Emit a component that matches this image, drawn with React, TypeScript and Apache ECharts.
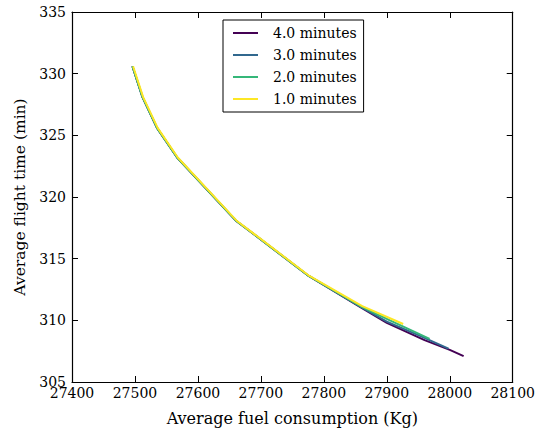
import React, { useEffect, useRef } from "react";
import * as echarts from "echarts";

const seriesNames = ["4.0 minutes", "3.0 minutes", "2.0 minutes", "1.0 minutes"];
const seriesColors = ["#440154", "#31688e", "#35b779", "#fde725"];

const fuel4 = [27496, 27512, 27535, 27567, 27660, 27776, 27860, 27900, 27960, 28000, 28022];
const time4 = [330.6, 328.1, 325.6, 323.2, 318.1, 313.6, 311.0, 309.8, 308.4, 307.6, 307.1];

const fuel3 = [27496, 27512, 27535, 27567, 27660, 27776, 27860, 27900, 27950, 27998];
const time3 = [330.6, 328.1, 325.6, 323.2, 318.1, 313.6, 311.05, 309.9, 308.8, 307.7];

const fuel2 = [27496, 27512, 27535, 27567, 27660, 27776, 27860, 27905, 27968];
const time2 = [330.6, 328.1, 325.6, 323.2, 318.1, 313.6, 311.1, 310.0, 308.5];

const fuel1 = [27497, 27513, 27536, 27568, 27661, 27777, 27861, 27926];
const time1 = [330.6, 328.1, 325.6, 323.2, 318.1, 313.6, 311.15, 309.7];

const fuels = [fuel4, fuel3, fuel2, fuel1];
const times = [time4, time3, time2, time1];

const FONT = "DejaVu Serif";

export default function App() {
  const ref = useRef<HTMLDivElement>(null);
  useEffect(() => {
    document.body.style.margin = "0";
    if (!ref.current) return;
    const chart = echarts.init(ref.current, undefined, { renderer: "svg" });
    const axisLine = { show: true, lineStyle: { color: "#000", width: 1.2 } };
    const tick = { show: true, inside: true, length: 6, lineStyle: { color: "#000", width: 1 } };
    const label = { color: "#000", fontFamily: FONT, fontSize: 14, formatter: (v: number) => String(v) };
    chart.setOption({
      animation: false,
      backgroundColor: "#fff",
      grid: { left: 72, top: 12, right: 22, bottom: 52, containLabel: false },
      legend: {
        orient: "vertical",
        left: 223,
        top: 20,
        data: seriesNames,
        icon: "rect",
        itemWidth: 25,
        itemHeight: 2,
        itemGap: 6,
        padding: [5, 7, 5, 10],
        borderColor: "#000",
        borderWidth: 1,
        borderRadius: 0,
        backgroundColor: "#fff",
        textStyle: { color: "#000", fontFamily: FONT, fontSize: 14, lineHeight: 16, padding: [0, 0, 0, 10] },
      },
      xAxis: [
        {
          type: "value",
          min: 27400,
          max: 28100,
          interval: 100,
          position: "bottom",
          name: "Average fuel consumption (Kg)",
          nameLocation: "middle",
          nameGap: 28,
          nameTextStyle: { color: "#000", fontFamily: FONT, fontSize: 16 },
          axisLine,
          axisTick: tick,
          axisLabel: { ...label, margin: 4 },
          splitLine: { show: false },
        },
        {
          type: "value",
          min: 27400,
          max: 28100,
          interval: 100,
          position: "top",
          axisLine,
          axisTick: tick,
          axisLabel: { show: false },
          splitLine: { show: false },
        },
      ],
      yAxis: [
        {
          type: "value",
          min: 305,
          max: 335,
          interval: 5,
          position: "left",
          name: "Average flight time (min)",
          nameLocation: "middle",
          nameGap: 42,
          nameRotate: 90,
          nameTextStyle: { color: "#000", fontFamily: FONT, fontSize: 15.5 },
          axisLine,
          axisTick: tick,
          axisLabel: { ...label, margin: 6 },
          splitLine: { show: false },
        },
        {
          type: "value",
          min: 305,
          max: 335,
          interval: 5,
          position: "right",
          axisLine,
          axisTick: tick,
          axisLabel: { show: false },
          splitLine: { show: false },
        },
      ],
      series: seriesNames.map((name, i) => ({
        name,
        type: "line",
        xAxisIndex: 0,
        yAxisIndex: 0,
        showSymbol: false,
        symbol: "none",
        color: seriesColors[i],
        lineStyle: { color: seriesColors[i], width: 2 },
        data: fuels[i].map((f, j) => [f, times[i][j]]),
        z: 2 + i,
      })),
    });
    return () => chart.dispose();
  }, []);
  return <div ref={ref} style={{ width: 538, height: 434 }} />;
}
